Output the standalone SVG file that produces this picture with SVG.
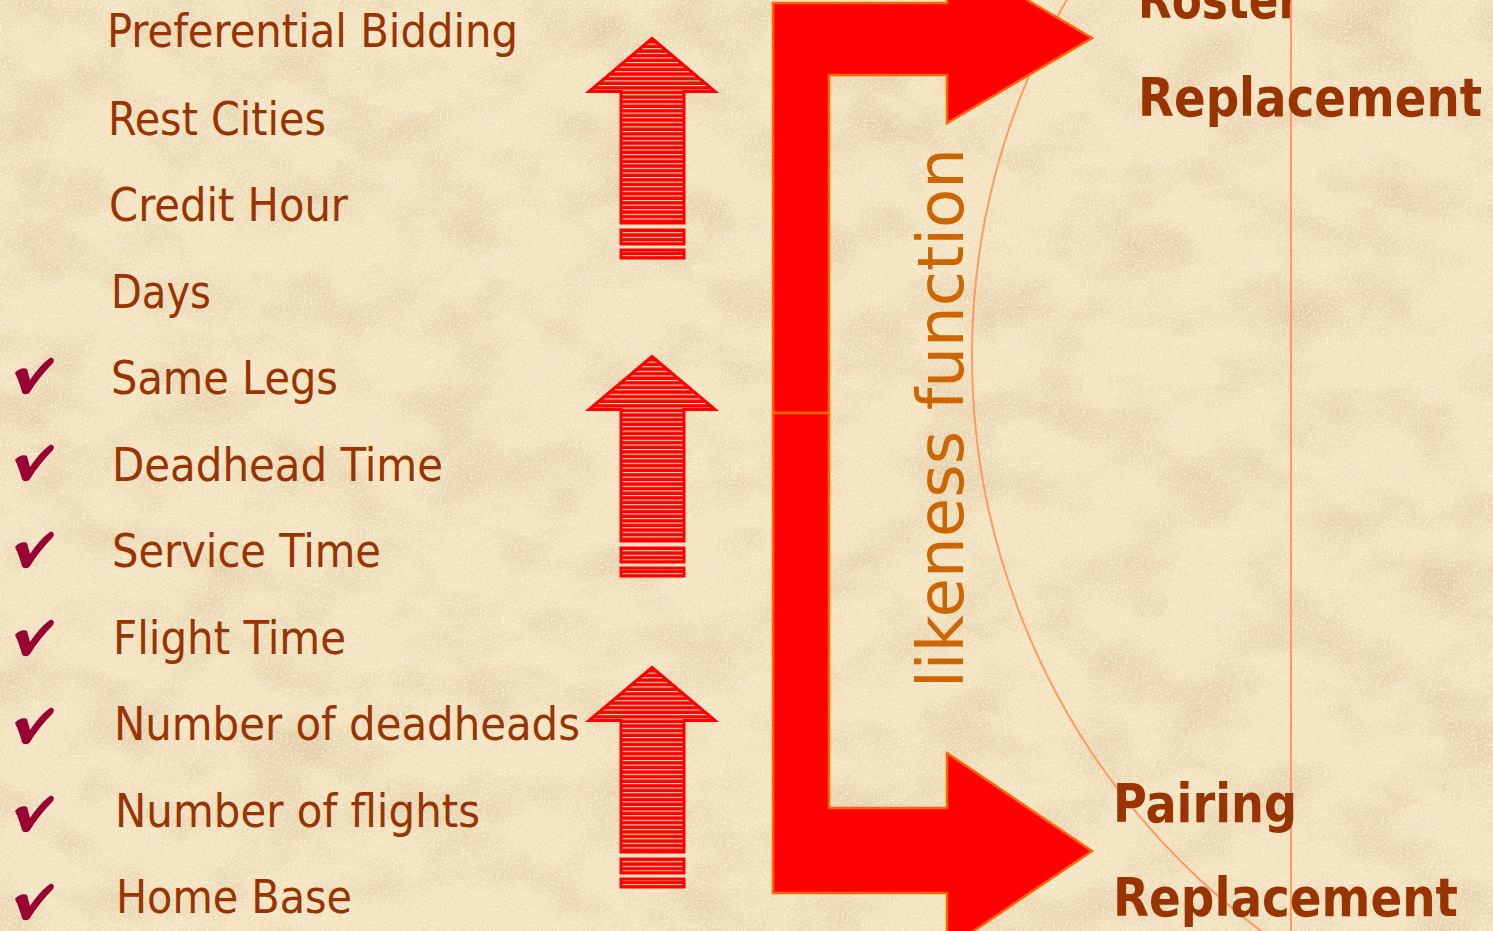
<svg xmlns="http://www.w3.org/2000/svg" width="1493" height="931" viewBox="0 0 1493 931">
<style>
.item{font-family:"DejaVu Sans Condensed","DejaVu Sans","Liberation Sans",sans-serif;font-stretch:condensed;font-size:47px;fill:#993300}
.lbl{font-family:"DejaVu Sans Condensed","DejaVu Sans","Liberation Sans",sans-serif;font-stretch:condensed;font-weight:bold;font-size:53px;fill:#993300}
.fn{font-family:"DejaVu Sans","Liberation Sans",sans-serif;font-size:64px;fill:#CC6600}
.check{fill:#990033}
.deco{fill:none;stroke:#FF9966;stroke-width:2}
.bracket{fill:#FF0000;stroke:#FF6600;stroke-width:2.5;stroke-linejoin:miter}
.up{fill:url(#stripes);stroke:#FF0000;stroke-width:3;stroke-linejoin:miter}
</style>
<defs>
<filter id="paper" x="0" y="0" width="1493" height="931" filterUnits="userSpaceOnUse">
<feTurbulence type="fractalNoise" baseFrequency="0.012 0.018" numOctaves="4" seed="7" result="n1"/>
<feColorMatrix in="n1" type="matrix" values="0 0 0 0 0.78  0 0 0 0 0.62  0 0 0 0 0.40  2.2 0 0 0 -0.92" result="blot"/>
<feTurbulence type="fractalNoise" baseFrequency="0.45" numOctaves="2" seed="2" result="n2"/>
<feColorMatrix in="n2" type="matrix" values="0 0 0 0 1  0 0 0 0 0.97  0 0 0 0 0.86  2 0 0 0 -1.0" result="speck"/>
<feMerge><feMergeNode in="blot"/><feMergeNode in="speck"/></feMerge>
</filter>
<pattern id="stripes" patternUnits="userSpaceOnUse" x="0" y="39" width="20" height="4.6">
<rect width="20" height="4.6" fill="#FF0000"/>
<rect y="0" width="20" height="1.1" fill="#F3E3BE"/>
</pattern>
<g id="uparrow">
<path class="up" d="M652,38.5 L715,91.5 L684,91.5 L684,223 L621,223 L621,91.5 L589,91.5 Z"/>
<rect class="up" x="621" y="230" width="63" height="14"/>
<rect class="up" x="621" y="250" width="63" height="8"/>
</g>
<path id="chk" d="M0,14 C3,10 9,8 12,10 L15,21 C21,12 28,4 35,-1 C38,-2 40,1 38,4 C29,13 21,23 15,33 C13,36 8,36 7,33 C5,26 3,20 0,14 Z"/>
</defs>

<g id="background">
<rect width="1493" height="931" fill="#F3E3C0"/>
<rect width="1493" height="931" filter="url(#paper)"/>
</g>

<g id="decor">
<circle class="deco" cx="1688" cy="356" r="716"/>
<line class="deco" x1="1291" y1="0" x2="1291" y2="931"/>
</g>

<g id="connectors">
<path class="bracket" d="M773,413 L773,3 L947,3 L947,-47 L1092,38 L947,123 L947,75 L829,75 L829,413 Z"/>
<path class="bracket" d="M773,413 L773,893 L947,893 L947,949 L1092,851 L947,753 L947,808 L829,808 L829,413 Z"/>
</g>

<g id="arrow1"><use href="#uparrow"/></g>
<g id="arrow2"><use href="#uparrow" transform="translate(0,318)"/></g>
<g id="arrow3"><use href="#uparrow" transform="translate(0,629)"/></g>

<g id="items">
<g id="item1"><text class="item" x="107" y="47" textLength="411" lengthAdjust="spacingAndGlyphs">Preferential Bidding</text></g>
<g id="item2"><text class="item" x="108" y="135" textLength="218" lengthAdjust="spacingAndGlyphs">Rest Cities</text></g>
<g id="item3"><text class="item" x="109" y="221" textLength="239" lengthAdjust="spacingAndGlyphs">Credit Hour</text></g>
<g id="item4"><text class="item" x="111" y="308" textLength="100" lengthAdjust="spacingAndGlyphs">Days</text></g>
<g id="item5"><use class="check" href="#chk" x="15" y="359"/><text class="item" x="111" y="394" textLength="227" lengthAdjust="spacingAndGlyphs">Same Legs</text></g>
<g id="item6"><use class="check" href="#chk" x="15" y="446"/><text class="item" x="112" y="481" textLength="331" lengthAdjust="spacingAndGlyphs">Deadhead Time</text></g>
<g id="item7"><use class="check" href="#chk" x="15" y="533"/><text class="item" x="112" y="567" textLength="269" lengthAdjust="spacingAndGlyphs">Service Time</text></g>
<g id="item8"><use class="check" href="#chk" x="15" y="621"/><text class="item" x="113" y="654" textLength="233" lengthAdjust="spacingAndGlyphs">Flight Time</text></g>
<g id="item9"><use class="check" href="#chk" x="15" y="709"/><text class="item" x="114" y="740" textLength="466" lengthAdjust="spacingAndGlyphs">Number of deadheads</text></g>
<g id="item10"><use class="check" href="#chk" x="15" y="797"/><text class="item" x="115" y="827" textLength="365" lengthAdjust="spacingAndGlyphs">Number of flights</text></g>
<g id="item11"><use class="check" href="#chk" x="15" y="885"/><text class="item" x="116" y="913" textLength="236" lengthAdjust="spacingAndGlyphs">Home Base</text></g>
</g>

<g id="likeness">
<text class="fn" transform="translate(963,688) rotate(-90)" x="0" y="0" textLength="540" lengthAdjust="spacingAndGlyphs">likeness function</text>
</g>

<g id="roster-replacement">
<text class="lbl" x="1138" y="18" textLength="162" lengthAdjust="spacingAndGlyphs">Roster</text>
<text class="lbl" x="1138" y="116" textLength="344" lengthAdjust="spacingAndGlyphs">Replacement</text>
</g>

<g id="pairing-replacement">
<text class="lbl" x="1113" y="822" textLength="184" lengthAdjust="spacingAndGlyphs">Pairing</text>
<text class="lbl" x="1113" y="916" textLength="345" lengthAdjust="spacingAndGlyphs">Replacement</text>
</g>
</svg>
